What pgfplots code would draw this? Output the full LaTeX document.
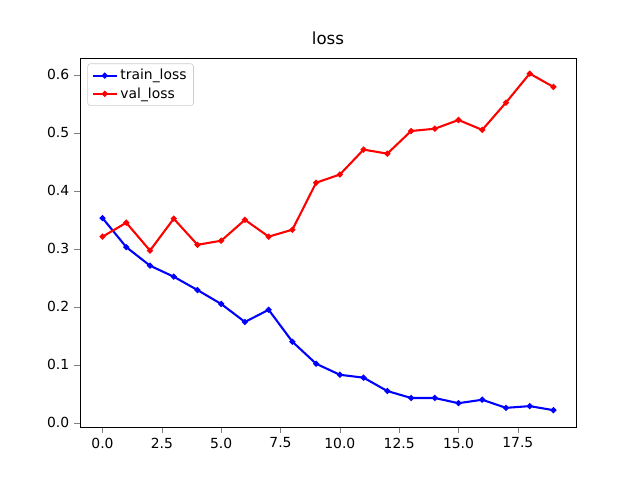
\documentclass[border=0pt]{standalone}
\usepackage{pgfplots}
\pgfplotsset{compat=1.18}
\usepackage{fontspec}
\setmainfont{DejaVu Sans}
\begin{document}
\begin{tikzpicture}
\path (0,0) rectangle (460.8pt,345.6pt);
\begin{axis}[at={(57.6pt,38.2pt)},anchor=south west,scale only axis,
width=357.1pt,height=265.7pt,
xmin=-0.95,xmax=19.95,ymin=-0.0069,ymax=0.629,
xtick={0,2.5,5,7.5,10,12.5,15,17.5},
xticklabels={0.0,2.5,5.0,7.5,10.0,12.5,15.0,17.5},
ytick={0,0.1,0.2,0.3,0.4,0.5,0.6},
yticklabels={0.0,0.1,0.2,0.3,0.4,0.5,0.6},
tick align=outside,tick pos=left,
ticklabel style={font=\fontsize{10}{12}\selectfont},
title={\fontsize{12}{14}\selectfont loss},
legend style={at={(0.015,0.985)},anchor=north west,font=\fontsize{10}{12}\selectfont,draw=black!20,rounded corners=2pt},
legend cell align=left,
every axis plot/.append style={line width=1.5pt,mark=*,mark size=1.3pt}]
\addplot[blue] coordinates {(0,0.353)(1,0.303)(2,0.271)(3,0.252)(4,0.229)(5,0.205)(6,0.174)(7,0.195)(8,0.140)(9,0.102)(10,0.083)(11,0.078)(12,0.055)(13,0.043)(14,0.043)(15,0.034)(16,0.040)(17,0.026)(18,0.029)(19,0.022)};
\addlegendentry{train\_loss}
\addplot[red] coordinates {(0,0.321)(1,0.345)(2,0.297)(3,0.352)(4,0.307)(5,0.314)(6,0.350)(7,0.321)(8,0.333)(9,0.414)(10,0.428)(11,0.471)(12,0.464)(13,0.503)(14,0.507)(15,0.522)(16,0.505)(17,0.552)(18,0.602)(19,0.579)};
\addlegendentry{val\_loss}
\end{axis}
\end{tikzpicture}
\end{document}
